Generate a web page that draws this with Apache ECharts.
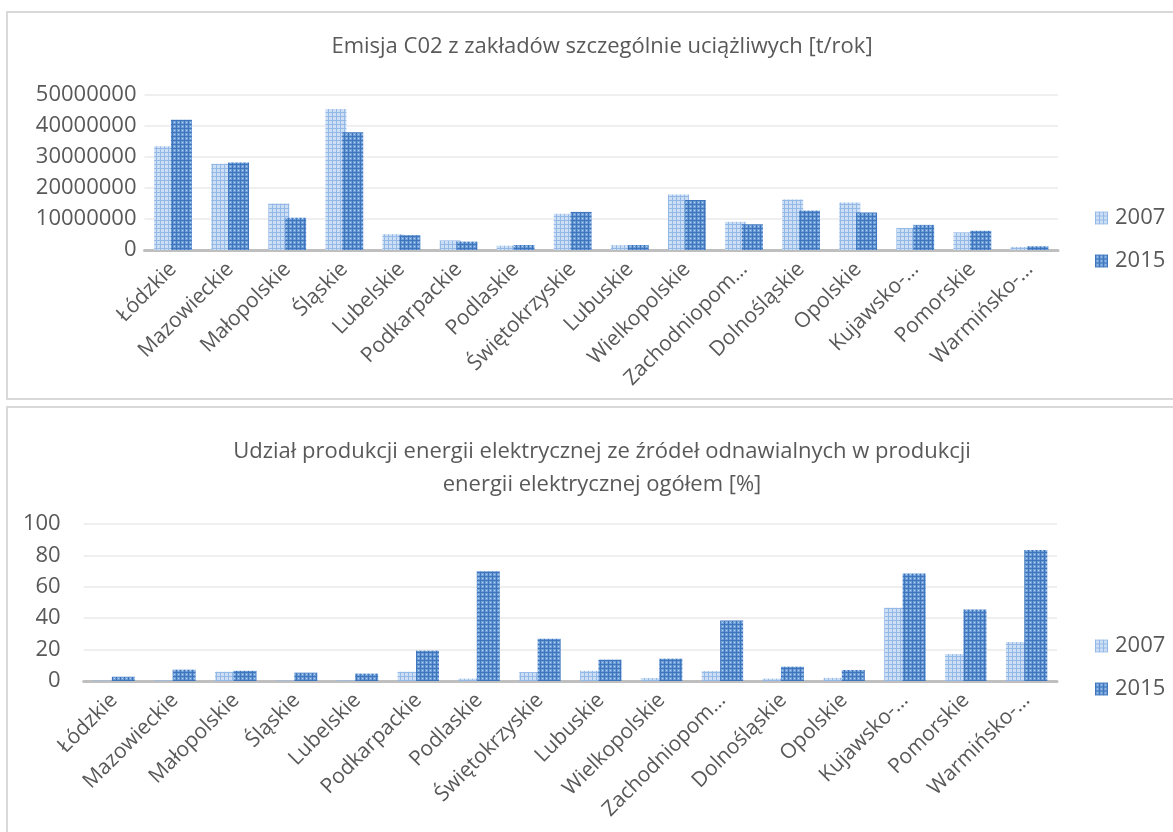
<!DOCTYPE html>
<html lang="pl">
    <head>
        <meta charset="UTF-8">
        <title>Emisja CO2 i OZE</title>
        <style>
            *{
                margin: 0;
                padding: 0;
            }
            body{
                background: #ffffff;
            }
            #chart{
                width: 1173px;
                height: 832px;
            }
        </style>
        <script src="https://cdn.jsdelivr.net/npm/echarts@6/dist/echarts.min.js"></script>
    </head>
    <body>
        <div id="chart"></div>
        <script>
            // data
            var categories = ['Łódzkie', 'Mazowieckie', 'Małopolskie', 'Śląskie', 'Lubelskie', 'Podkarpackie',
                'Podlaskie', 'Świętokrzyskie', 'Lubuskie', 'Wielkopolskie', 'Zachodniopom…', 'Dolnośląskie',
                'Opolskie', 'Kujawsko-…', 'Pomorskie', 'Warmińsko-…'];
            var years = ['2007', '2015'];
            var co2_2007 = [33500000, 27800000, 15000000, 45500000, 5100000, 3100000, 1400000, 11700000,
                1600000, 17900000, 9100000, 16300000, 15300000, 7100000, 5700000, 1000000];
            var co2_2015 = [42000000, 28200000, 10400000, 38000000, 4800000, 2700000, 1600000, 12300000,
                1600000, 16100000, 8300000, 12700000, 12100000, 8100000, 6200000, 1200000];
            var oze_2007 = [0.3, 0.4, 5.9, 0.3, 0.4, 5.9, 1.5, 5.7, 6.5, 1.9, 6.3, 1.5, 2.0, 46.6, 17.2, 24.8];
            var oze_2015 = [2.7, 7.2, 6.5, 5.3, 4.7, 19.3, 69.9, 26.9, 13.6, 14.2, 38.5, 9.1, 7.0, 68.4, 45.6, 83.5];
            var title_co2 = 'Emisja C02 z zakładów szczególnie uciążliwych [t/rok]';
            var title_oze = 'Udział produkcji energii elektrycznej ze źródeł odnawialnych w produkcji\nenergii elektrycznej ogółem [%]';

            // pattern fills like excel's grid pattern
            function make_pattern(base, line, dot){
                var c = document.createElement('canvas');
                c.width = 4;
                c.height = 4;
                var ctx = c.getContext('2d');
                ctx.fillStyle = base;
                ctx.fillRect(0, 0, 4, 4);
                ctx.fillStyle = line;
                ctx.fillRect(0, 0, 4, 1);
                ctx.fillRect(0, 0, 1, 4);
                if(dot){
                    ctx.fillStyle = dot;
                    ctx.fillRect(2, 2, 1, 1);
                }
                return {image: c, repeat: 'repeat'};
            }
            var fill_2007 = make_pattern('#cddff4', '#95b9e6', null);
            var fill_2015 = make_pattern('#6f9fd8', '#3e75bd', '#b9d0ee');

            var txt = '#595959';
            var font = 'Open Sans';

            function x_axis(idx){
                return {
                    type: 'category',
                    gridIndex: idx,
                    data: categories,
                    axisTick: {show: false},
                    axisLine: {lineStyle: {color: '#bfbfbf', width: 3}},
                    axisLabel: {
                        interval: 0,
                        rotate: 45,
                        margin: 16,
                        color: txt,
                        fontFamily: font,
                        fontSize: 21
                    }
                };
            }
            function y_axis(idx, max, step, gap){
                return {
                    type: 'value',
                    gridIndex: idx,
                    min: 0,
                    max: max,
                    interval: step,
                    axisLine: {show: false},
                    axisTick: {show: false},
                    splitLine: {lineStyle: {color: '#efefef', width: 2}},
                    axisLabel: {
                        margin: gap,
                        color: txt,
                        fontFamily: font,
                        fontSize: 22,
                        formatter: function(v){ return String(v); }
                    }
                };
            }
            function bar(name, idx, data, fill, w){
                return {
                    name: name,
                    type: 'bar',
                    xAxisIndex: idx,
                    yAxisIndex: idx,
                    data: data,
                    barWidth: w,
                    barGap: '-20%',
                    itemStyle: {color: fill},
                    animation: false
                };
            }
            function legend(top){
                return {
                    orient: 'vertical',
                    left: 1090,
                    top: top,
                    itemWidth: 13,
                    itemHeight: 13,
                    itemGap: 19,
                    icon: 'rect',
                    data: years,
                    selectedMode: false,
                    textStyle: {color: txt, fontFamily: font, fontSize: 22, lineHeight: 24, padding: [0, 0, 0, 2]}
                };
            }

            var chart = echarts.init(document.getElementById('chart'));
            var option = {
                animation: false,
                graphic: [
                    {type: 'rect', shape: {x: 7, y: 12, width: 1180, height: 387},
                        style: {fill: 'none', stroke: '#d9d9d9', lineWidth: 2}},
                    {type: 'rect', shape: {x: 7, y: 407, width: 1180, height: 440},
                        style: {fill: 'none', stroke: '#d9d9d9', lineWidth: 2}}
                ],
                title: [
                    {
                        text: title_co2,
                        left: 597,
                        top: 31,
                        textAlign: 'center',
                        textStyle: {color: txt, fontFamily: font, fontSize: 22, fontWeight: 'normal'}
                    },
                    {
                        text: title_oze,
                        left: 597,
                        top: 430,
                        textAlign: 'center',
                        textStyle: {color: txt, fontFamily: font, fontSize: 22, fontWeight: 'normal', lineHeight: 33}
                    }
                ],
                legend: [legend(201), legend(629)],
                grid: [
                    {left: 144.5, top: 95, width: 913.5, height: 155},
                    {left: 83.7, top: 524, width: 973.3, height: 157}
                ],
                xAxis: [x_axis(0), x_axis(1)],
                yAxis: [y_axis(0, 50000000, 10000000, 8), y_axis(1, 100, 20, 23)],
                series: [
                    bar('2007', 0, co2_2007, fill_2007, 21),
                    bar('2015', 0, co2_2015, fill_2015, 21),
                    bar('2007', 1, oze_2007, fill_2007, 23),
                    bar('2015', 1, oze_2015, fill_2015, 23)
                ]
            };
            chart.setOption(option);
        </script>
    </body>
</html>
